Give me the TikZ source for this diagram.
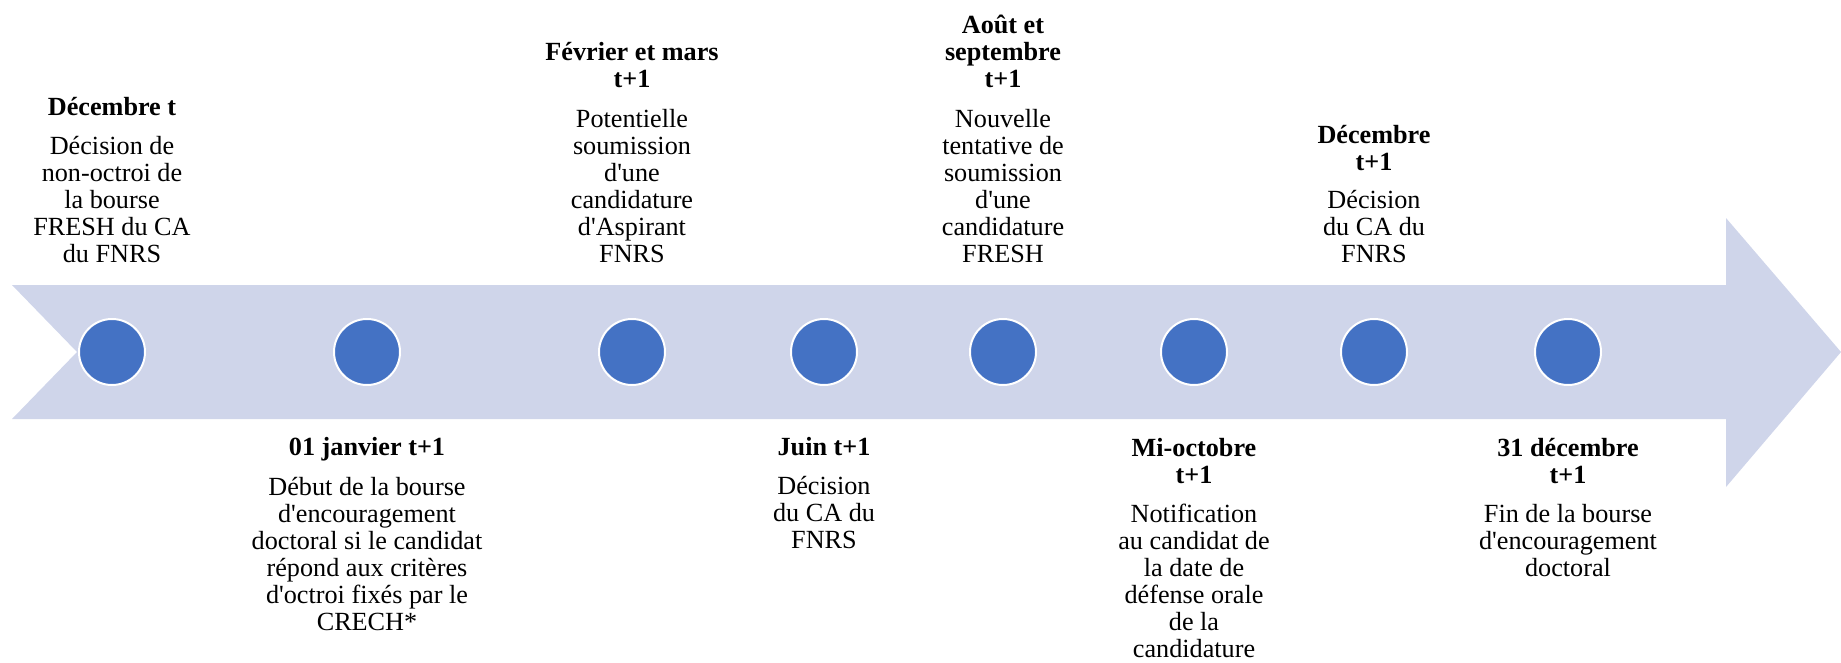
\documentclass[tikz,border=0pt]{standalone}
\usepackage{fontspec}
\setmainfont{Liberation Serif}
\usetikzlibrary{positioning}

\definecolor{bandblue}{RGB}{207,213,234}
\definecolor{dotblue}{RGB}{68,114,196}
\newcommand{\apos}{\textquotesingle}

\begin{document}
\begin{tikzpicture}[x=1pt,y=-1pt,
    dot node/.style={circle,fill=dotblue,draw=white,line width=2pt,minimum size=66pt,inner sep=0pt},
    date node/.style={align=center,inner sep=0pt,anchor=base,font=\fontsize{26.2}{27}\selectfont\bfseries},
    text node/.style={align=center,inner sep=0pt,anchor=base,font=\fontsize{26.2}{27}\selectfont}]

  \useasboundingbox (0,0) rectangle (1841,662);

  % the band
  \fill[bandblue] (12,285) -- (1726,285) -- (1726,218) -- (1841,352)
    -- (1726,487) -- (1726,419) -- (12,419) -- (77,352) -- cycle;

  \node[dot node] (1) at (112,352) {};
  \node[dot node] (2) at (367,352) {};
  \node[dot node] (3) at (632,352) {};
  \node[dot node] (4) at (824,352) {};
  \node[dot node] (5) at (1003,352) {};
  \node[dot node] (6) at (1194,352) {};
  \node[dot node] (7) at (1374,352) {};
  \node[dot node] (8) at (1568,352) {};

  % above the band (base = last line)
  \node[date node] (t1) at (112,115) {Décembre t};
  \node[text node] (b1) at (112,262)
    {Décision de\\non-octroi de\\la bourse\\FRESH du CA\\du FNRS};
  \node[date node] (t3) at (632,87) {Février et mars\\t+1};
  \node[text node] (b3) at (632,262)
    {Potentielle\\soumission\\d\apos une\\candidature\\d\apos Aspirant\\FNRS};
  \node[date node] (t5) at (1003,87) {Août et\\septembre\\t+1};
  \node[text node] (b5) at (1003,262)
    {Nouvelle\\tentative de\\soumission\\d\apos une\\candidature\\FRESH};
  \node[date node] (t7) at (1374,170) {Décembre\\t+1};
  \node[text node] (b7) at (1374,262) {Décision\\du CA du\\FNRS};

  % below the band
  \node[date node] (t2) at (367,455) {01 janvier t+1};
  \node[text node] (b2) at (367,630)
    {Début de la bourse\\d\apos encouragement\\doctoral si le candidat\\répond aux critères\\d\apos octroi fixés par le\\CRECH*};
  \node[date node] (t4) at (824,455) {Juin t+1};
  \node[text node] (b4) at (824,548) {Décision\\du CA du\\FNRS};
  \node[date node] (t6) at (1194,483) {Mi-octobre\\t+1};
  \node[text node] (b6) at (1194,657)
    {Notification\\au candidat de\\la date de\\défense orale\\de la\\candidature};
  \node[date node] (t8) at (1568,483) {31 décembre\\t+1};
  \node[text node] (b8) at (1568,576)
    {Fin de la bourse\\d\apos encouragement\\doctoral};

\end{tikzpicture}
\end{document}
